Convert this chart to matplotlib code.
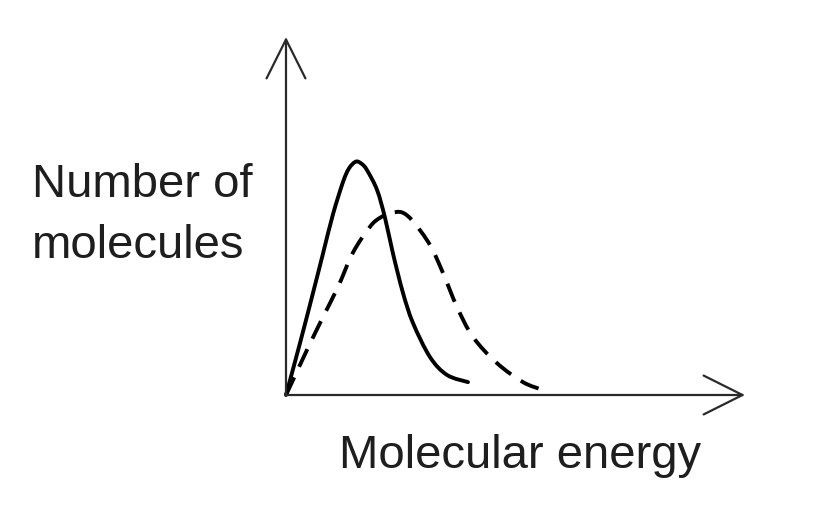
import matplotlib
matplotlib.use("Agg")
import matplotlib.pyplot as plt
from matplotlib.path import Path
from matplotlib.patches import PathPatch

# Molecular energy (arbitrary units) and number of molecules (arbitrary units)
solid_energy = [0.0, 0.305, 0.588, 0.806, 1.024, 1.242, 1.373, 1.524, 1.655, 1.765,
                1.983, 2.157, 2.331, 2.549, 2.767, 3.137, 3.508, 3.965]
solid_count = [0.0, 1.45, 2.85, 3.95, 5.05, 5.95, 6.33, 6.52, 6.45, 6.28,
               5.73, 4.95, 3.95, 2.85, 2.01, 1.06, 0.56, 0.36]

dashed_energy = [0.0, 0.153, 0.458, 0.806, 1.133, 1.460, 1.830, 2.048, 2.288, 2.527,
                 2.767, 3.137, 3.420, 3.725, 4.074, 4.597, 5.163, 5.599]
dashed_count = [0.0, 0.42, 1.26, 2.18, 3.02, 3.98, 4.70, 4.95, 5.08, 5.10,
                4.85, 4.19, 3.41, 2.46, 1.62, 0.89, 0.36, 0.14]

y_label_lines = ["Number of", "molecules"]
x_label = "Molecular energy"

W, H = 836, 524
fig = plt.figure(figsize=(W / 100, H / 100), dpi=100)
fig.patch.set_facecolor("white")

ox, oy = 286, 395
xend, ytop = 745, 37
ax = fig.add_axes([ox / W, (H - oy) / H, (xend - ox) / W, (oy - ytop) / H])
ax.set_xlim(0, 10)
ax.set_ylim(0, 10)
ax.axis("off")

arrow_kw = dict(arrowstyle="->,head_length=1.4,head_width=0.7", lw=1.6,
                color="#2a2a2a", mutation_scale=20, shrinkA=0, shrinkB=0)
ax.annotate("", xy=(0, 10), xytext=(0, 0), arrowprops=arrow_kw, annotation_clip=False)
ax.annotate("", xy=(10, 0), xytext=(0, 0), arrowprops=arrow_kw, annotation_clip=False)


def smooth_path(xs, ys):
    """Bezier path through the data points (Catmull-Rom tangents) for smooth drawing."""
    pts = list(zip(xs, ys))
    n = len(pts)
    verts = [pts[0]]
    codes = [Path.MOVETO]
    for i in range(n - 1):
        p0 = pts[i - 1] if i > 0 else pts[i]
        p1 = pts[i]
        p2 = pts[i + 1]
        p3 = pts[i + 2] if i + 2 < n else pts[i + 1]
        c1 = (p1[0] + (p2[0] - p0[0]) / 6, p1[1] + (p2[1] - p0[1]) / 6)
        c2 = (p2[0] - (p3[0] - p1[0]) / 6, p2[1] - (p3[1] - p1[1]) / 6)
        verts += [c1, c2, p2]
        codes += [Path.CURVE4] * 3
    return Path(verts, codes)


ax.add_patch(PathPatch(smooth_path(solid_energy, solid_count), fill=False,
                       edgecolor="black", lw=2.8, capstyle="round",
                       joinstyle="round", clip_on=False))
ax.add_patch(PathPatch(smooth_path(dashed_energy, dashed_count), fill=False,
                       edgecolor="black", lw=2.8, linestyle=(0, (5.0, 3.0)),
                       capstyle="butt", clip_on=False))

font = dict(family=["Liberation Sans", "DejaVu Sans"], fontsize=34, color="#1e1e1e")
fig.text(32 / W, (H - 197) / H, y_label_lines[0], va="baseline", ha="left", **font)
fig.text(32 / W, (H - 258) / H, y_label_lines[1], va="baseline", ha="left", **font)
fig.text(339 / W, (H - 468) / H, x_label, va="baseline", ha="left", **font)

fig.savefig("out.png", dpi=100, facecolor="white")
